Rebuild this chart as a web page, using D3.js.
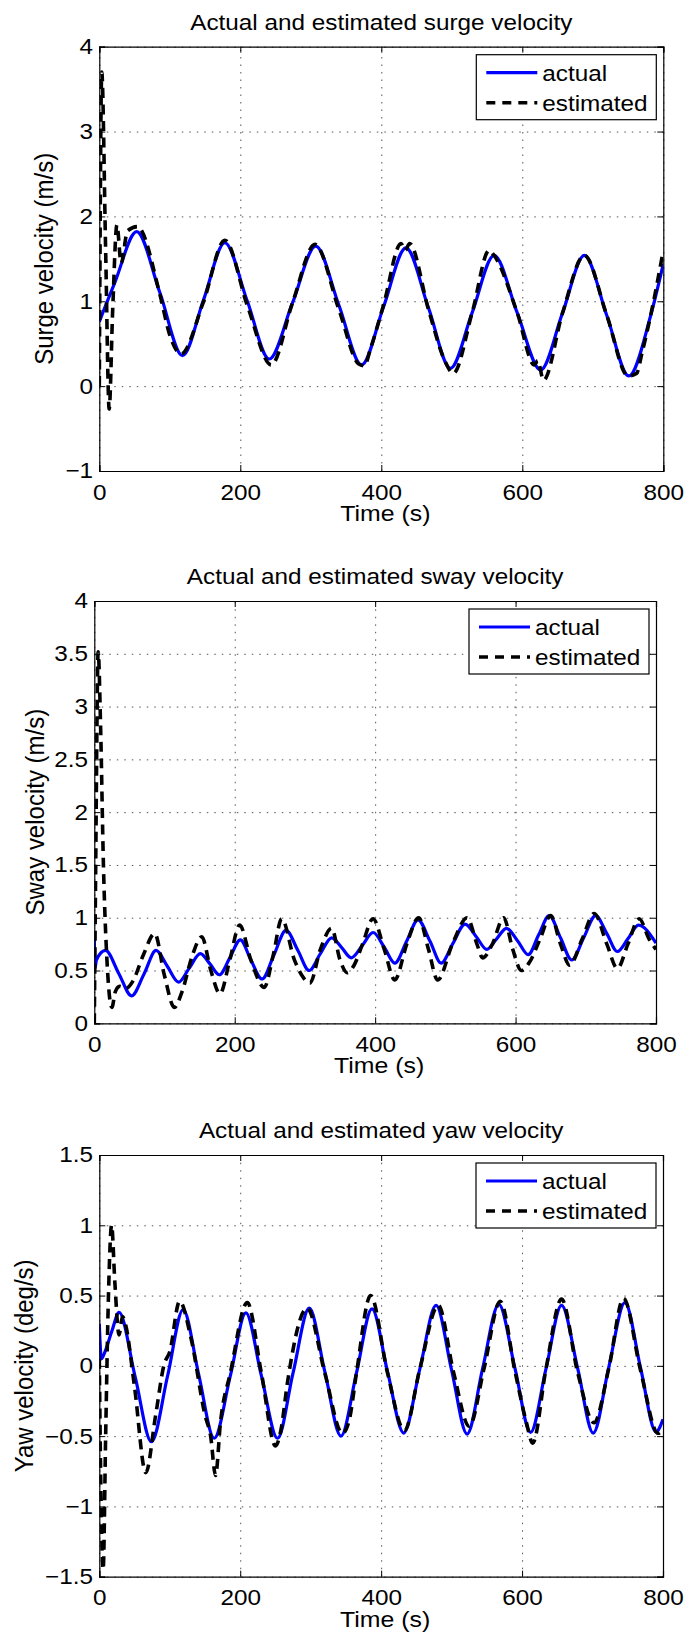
<!DOCTYPE html>
<html>
<head>
<meta charset="utf-8">
<script src="https://cdn.jsdelivr.net/npm/d3@7"></script>
<style>
  body { margin: 0; background: #fff; }
  svg text { font-family: "Liberation Sans", Arial, Helvetica, sans-serif; fill: #000; }
</style>
</head>
<body>
<div id="chart"></div>
<script>
// x axis (time) shared by all three panels
const xTicks = [0, 200, 400, 600, 800];
const xTickLabels = ['0', '200', '400', '600', '800'];

// surge velocity (m/s)
const surgeTicks = [-1, 0, 1, 2, 3, 4];
const surgeTickLabels = ['\u22121', '0', '1', '2', '3', '4'];
const surgeActual = [[0,0.76],[22,1.22],[53,1.82],[86,1.1],[118,0.36],[148,1.02],[178,1.69],[210,1.0],[241,0.32],[274,0.98],[307,1.65],[340,0.95],[372,0.25],[403,0.93],[435,1.63],[467,0.92],[498,0.21],[529,0.87],[560,1.54],[593,0.86],[626,0.19],[657,0.86],[688,1.54],[720,0.83],[751,0.12],[782,0.83],[800,1.44]];
const surgeEstimated = [[0,0.0],[3.5,3.7],[9,1.6],[14,-0.27],[19,0.9],[25,1.9],[31,1.45],[40,1.83],[54,1.88],[86,1.08],[100,0.6],[116,0.38],[148,1.0],[178,1.72],[210,0.95],[244,0.25],[274,0.98],[306,1.67],[340,0.9],[368,0.26],[376,0.24],[385,0.45],[403,0.95],[428,1.68],[434,1.6],[440,1.68],[467,0.9],[490,0.3],[502,0.15],[529,0.87],[553,1.6],[560,1.54],[593,0.86],[617,0.25],[622,0.3],[630,0.07],[657,0.86],[688,1.54],[720,0.83],[750,0.12],[762,0.15],[770,0.4],[782,0.83],[800,1.6]];

// sway velocity (m/s)
const swayTicks = [0, 0.5, 1, 1.5, 2, 2.5, 3, 3.5, 4];
const swayTickLabels = ['0', '0.5', '1', '1.5', '2', '2.5', '3', '3.5', '4'];
const swayActual = [[0,0.8],[1,0.52],[3,0.6],[16,0.69],[35,0.47],[53,0.26],[71,0.47],[88,0.69],[104,0.54],[120,0.39],[135,0.52],[151,0.66],[165,0.56],[178,0.46],[193,0.62],[208,0.79],[223,0.6],[239,0.42],[256,0.65],[273,0.88],[290,0.69],[306,0.5],[322,0.66],[338,0.81],[352,0.72],[366,0.62],[382,0.74],[397,0.86],[413,0.72],[428,0.57],[445,0.78],[461,0.98],[478,0.78],[494,0.57],[511,0.76],[528,0.94],[544,0.82],[559,0.7],[573,0.8],[587,0.9],[603,0.78],[618,0.65],[633,0.84],[648,1.02],[664,0.81],[680,0.6],[697,0.81],[714,1.02],[730,0.85],[745,0.68],[760,0.8],[775,0.93],[800,0.76]];
const swayEstimated = [[0,0.0],[2,1.5],[5.5,3.52],[9,2.8],[13,1.5],[18,0.6],[25,0.15],[30,0.3],[36,0.35],[45,0.33],[55,0.4],[70,0.65],[86,0.85],[100,0.45],[114,0.15],[125,0.3],[140,0.65],[153,0.82],[166,0.5],[179,0.28],[193,0.6],[207,0.93],[223,0.6],[242,0.34],[255,0.65],[267,0.99],[285,0.6],[296,0.45],[307,0.38],[322,0.7],[338,0.9],[350,0.6],[360,0.48],[370,0.55],[382,0.75],[397,0.99],[413,0.7],[428,0.41],[445,0.75],[462,1.0],[476,0.7],[489,0.41],[510,0.75],[531,1.0],[545,0.75],[553,0.62],[567,0.75],[583,1.0],[596,0.7],[608,0.5],[620,0.58],[635,0.8],[650,1.02],[664,0.75],[677,0.55],[695,0.8],[712,1.04],[730,0.75],[745,0.52],[760,0.75],[776,0.99],[790,0.8],[800,0.7]];

// yaw velocity (deg/s)
const yawTicks = [-1.5, -1, -0.5, 0, 0.5, 1, 1.5];
const yawTickLabels = ['\u22121.5', '\u22121', '\u22120.5', '0', '0.5', '1', '1.5'];
const yawActual = [[0,0.3],[3,0.05],[8,0.1],[18,0.25],[28,0.38],[51,-0.08],[74,-0.54],[97,-0.07],[119,0.4],[141,-0.06],[163,-0.515],[186,-0.07],[208,0.377],[230,-0.07],[253,-0.515],[275,-0.05],[298,0.41],[320,-0.04],[343,-0.5],[365,-0.05],[387,0.406],[409,-0.04],[432,-0.478],[455,-0.02],[478,0.43],[500,-0.03],[522,-0.485],[544,-0.02],[567,0.438],[590,-0.02],[612,-0.473],[634,-0.02],[656,0.43],[679,-0.02],[701,-0.478],[723,-0.01],[746,0.45],[768,-0.01],[790,-0.47],[800,-0.38]];
const yawEstimated = [[0,0.05],[2,-0.8],[5.5,-1.45],[9,-0.5],[13,0.5],[17.5,1.0],[22,0.6],[28,0.22],[33,0.35],[37,0.3],[50,-0.15],[66,-0.76],[80,-0.35],[92,0.01],[100,0.1],[114,0.46],[130,0.2],[150,-0.35],[158,-0.5],[165,-0.78],[172,-0.4],[186,-0.05],[210,0.45],[230,-0.05],[250,-0.57],[258,-0.45],[267,-0.12],[295,0.41],[320,-0.05],[345,-0.48],[355,-0.38],[365,-0.05],[385,0.5],[409,-0.05],[433,-0.46],[455,-0.02],[481,0.43],[503,-0.05],[525,-0.43],[546,-0.02],[569,0.46],[590,-0.04],[606,-0.4],[615,-0.55],[634,-0.02],[656,0.475],[679,-0.05],[702,-0.405],[723,-0.02],[744,0.48],[768,-0.03],[793,-0.48],[800,-0.45]];

const legendLabels = ['actual', 'estimated'];

const W = 689, H = 1639;
const SX = 1.13; // the figure's text is a little wider than Liberation Sans

const svg = d3.select('#chart').append('svg')
    .attr('width', W)
    .attr('height', H);
svg.append('rect').attr('width', W).attr('height', H).attr('fill', '#fff');

const panels = [
  { title: 'Actual and estimated surge velocity', ylabel: 'Surge velocity (m/s)',
    left: 99.3, right: 663.3, top: 46.7, bottom: 471, yDomain: [-1, 4],
    yTicks: surgeTicks, yLabels: surgeTickLabels, actual: surgeActual, est: surgeEstimated, ylabelX: 53 },
  { title: 'Actual and estimated sway velocity', ylabel: 'Sway velocity (m/s)',
    left: 94.3, right: 656, top: 601, bottom: 1023.3, yDomain: [0, 4],
    yTicks: swayTicks, yLabels: swayTickLabels, actual: swayActual, est: swayEstimated, ylabelX: 44 },
  { title: 'Actual and estimated yaw velocity', ylabel: 'Yaw velocity (deg/s)',
    left: 99.3, right: 663, top: 1155, bottom: 1576.7, yDomain: [-1.5, 1.5],
    yTicks: yawTicks, yLabels: yawTickLabels, actual: yawActual, est: yawEstimated, ylabelX: 33 }
];

panels.forEach((p, i) => {
  const w = p.right - p.left, h = p.bottom - p.top;
  const g = svg.append('g').attr('transform', `translate(${p.left},${p.top})`);

  const x = d3.scaleLinear().domain([0, 800]).range([0, w]);
  const y = d3.scaleLinear().domain(p.yDomain).range([h, 0]);

  // dotted grid
  const grid = g.append('g').attr('class', 'grid');
  grid.append('g').attr('transform', `translate(0,${h})`)
      .call(d3.axisBottom(x).tickValues(xTicks).tickSize(-h).tickFormat(''));
  grid.append('g')
      .call(d3.axisLeft(y).tickValues(p.yTicks).tickSize(-w).tickFormat(''));
  grid.selectAll('.domain').remove();
  grid.selectAll('line')
      .attr('stroke', '#555')
      .attr('stroke-width', 1)
      .attr('stroke-dasharray', '1.5,6');

  // curves
  const clipId = 'clip' + i;
  g.append('clipPath').attr('id', clipId)
    .append('rect').attr('width', w).attr('height', h);

  const line = d3.line()
      .x(d => x(d[0]))
      .y(d => y(d[1]))
      .curve(d3.curveMonotoneX);

  g.append('path')
      .datum(p.actual)
      .attr('clip-path', `url(#${clipId})`)
      .attr('d', line)
      .attr('fill', 'none')
      .attr('stroke', '#0000ff')
      .attr('stroke-width', 3.2);

  g.append('path')
      .datum(p.est)
      .attr('clip-path', `url(#${clipId})`)
      .attr('d', line)
      .attr('fill', 'none')
      .attr('stroke', '#000')
      .attr('stroke-width', 3.6)
      .attr('stroke-dasharray', '10,6.5');

  // axes, ticks inward on all four sides
  const xb = g.append('g').attr('transform', `translate(0,${h})`)
      .call(d3.axisBottom(x).tickValues(xTicks).tickSize(-6).tickPadding(13.5)
            .tickFormat((d, k) => xTickLabels[k]));
  const xt = g.append('g')
      .call(d3.axisTop(x).tickValues(xTicks).tickSize(-6).tickFormat(''));
  const yl = g.append('g')
      .call(d3.axisLeft(y).tickValues(p.yTicks).tickSize(-6).tickPadding(5.5)
            .tickFormat((d, k) => p.yLabels[k]));
  const yr = g.append('g').attr('transform', `translate(${w},0)`)
      .call(d3.axisRight(y).tickValues(p.yTicks).tickSize(-6).tickFormat(''));

  [xb, xt, yl, yr].forEach(a => {
    a.select('.domain').attr('stroke', '#000').attr('stroke-width', 1.2);
    a.selectAll('.tick line').attr('stroke', '#000').attr('stroke-width', 1);
    a.selectAll('.tick text')
        .attr('font-size', 21.5)
        .attr('font-family', '"Liberation Sans", Arial, sans-serif')
        .attr('fill', '#000')
        .attr('transform', `scale(${SX},1)`);
  });

  // title
  g.append('text')
      .attr('transform', `translate(${w / 2},${-17}) scale(${SX},1)`)
      .attr('text-anchor', 'middle')
      .attr('font-size', 21.5)
      .text(p.title);

  // x label
  g.append('text')
      .attr('transform', `translate(${w / 2 + 4},${h + 50}) scale(${SX},1)`)
      .attr('text-anchor', 'middle')
      .attr('font-size', 22)
      .text('Time (s)');

  // y label
  svg.append('text')
      .attr('transform', `translate(${p.ylabelX},${p.top + h / 2}) scale(1.08,1) rotate(-90)`)
      .attr('text-anchor', 'middle')
      .attr('font-size', 24)
      .text(p.ylabel);

  // legend
  const lg = g.append('g').attr('transform', `translate(${w - 187},8)`);
  lg.append('rect')
      .attr('width', 180).attr('height', 65)
      .attr('fill', '#fff')
      .attr('stroke', '#000')
      .attr('stroke-width', 1.2);
  legendLabels.forEach((lab, k) => {
    const ly = 18 + k * 30;
    lg.append('line')
        .attr('x1', 10).attr('x2', 61)
        .attr('y1', ly).attr('y2', ly)
        .attr('stroke', k === 0 ? '#0000ff' : '#000')
        .attr('stroke-width', k === 0 ? 3.2 : 3.6)
        .attr('stroke-dasharray', k === 0 ? null : '9,7');
    lg.append('text')
        .attr('transform', `translate(66,${ly + 8}) scale(${SX},1)`)
        .attr('font-size', 21.5)
        .text(lab);
  });
});
</script>
</body>
</html>
